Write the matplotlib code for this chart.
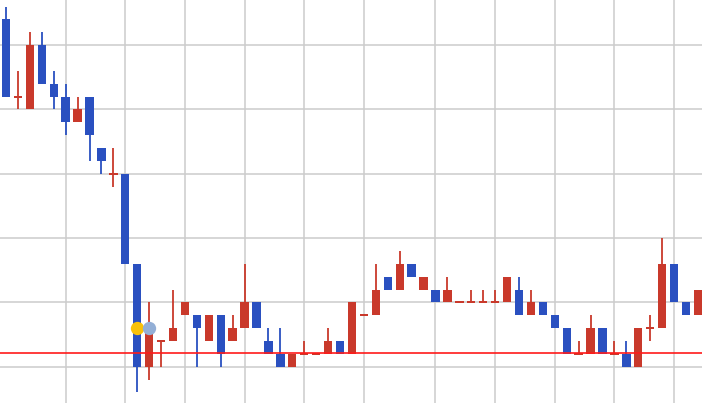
import matplotlib
matplotlib.use("Agg")
import matplotlib.pyplot as plt
import numpy as np

# candle data
opens = [154, 142, 140, 150, 144, 142, 138, 142, 134, 130,
         130, 116, 100, 104, 104, 108, 108, 104, 108, 104,
         106, 110, 104, 102, 100, 102, 102, 102, 104, 102,
         108, 108, 114, 112, 116, 112, 112, 110, 110, 110,
         110, 110, 110, 112, 108, 110, 108, 106, 102, 102,
         106, 102, 102, 100, 106, 106, 116, 110, 108]
highs = [156, 146, 152, 152, 146, 144, 142, 142, 134, 134,
         130, 116, 110, 104, 112, 110, 108, 108, 108, 108,
         116, 110, 106, 106, 102, 104, 102, 106, 104, 110,
         108, 116, 114, 118, 116, 114, 112, 114, 110, 112,
         112, 112, 114, 114, 112, 110, 108, 106, 104, 108,
         106, 104, 104, 106, 108, 120, 116, 110, 112]
lows = [142, 140, 140, 144, 140, 136, 138, 132, 130, 128,
        116, 96, 98, 100, 104, 108, 100, 104, 100, 104,
        106, 106, 102, 100, 100, 102, 102, 102, 102, 102,
        108, 108, 112, 112, 114, 112, 110, 110, 110, 110,
        110, 110, 110, 108, 108, 108, 106, 102, 102, 102,
        102, 102, 100, 100, 104, 106, 110, 108, 108]
closes = [142, 142, 150, 144, 142, 138, 140, 136, 132, 130,
          116, 100, 106, 104, 106, 110, 106, 108, 102, 106,
          110, 106, 102, 100, 102, 102, 102, 104, 102, 110,
          108, 112, 112, 116, 114, 114, 110, 112, 110, 110,
          110, 110, 114, 108, 110, 108, 106, 102, 102, 106,
          102, 102, 100, 106, 106, 116, 110, 108, 112]

# vertical grid positions (candle index)
x_grid = [5, 10, 15, 20, 25, 30, 36, 41, 46, 51, 56]
y_grid = [100, 110, 120, 130, 140, 150]

ref_level = 102.2
marker_idx = [11, 12]
marker_val = [106, 106]
marker_col = ['#f9c108', '#93afd6']

BLUE = '#2a50c0'
RED = '#c9392b'


def main():
    fig = plt.figure(figsize=(7.02, 4.03), dpi=100)
    ax = fig.add_axes([0, 0, 1, 1])

    for g in x_grid:
        ax.axvline(g, color='#cccccc', lw=1.1, zorder=0)
    for g in y_grid:
        ax.axhline(g, color='#cccccc', lw=1.1, zorder=0)

    o = np.array(opens, dtype=float)
    h = np.array(highs, dtype=float)
    l = np.array(lows, dtype=float)
    c = np.array(closes, dtype=float)
    x = np.arange(len(o))
    cols = [RED if cc >= oo else BLUE for oo, cc in zip(o, c)]

    ax.vlines(x, l, h, colors=cols, lw=1.3, zorder=2)
    bottom = np.minimum(o, c)
    height = np.abs(c - o)
    thin = height < 0.3
    bottom = np.where(thin, bottom - 0.15, bottom)
    height = np.where(thin, 0.3, height)
    ax.bar(x, height, bottom=bottom, width=0.7, color=cols, lw=0, zorder=3)

    ax.axhline(ref_level, color='#ff1a1a', lw=1.2, zorder=4)
    for i, v, col in zip(marker_idx, marker_val, marker_col):
        ax.plot(i, v, 'o', color=col, ms=9.6, mec='none', zorder=5)

    ax.set_xlim(-0.503, 58.34)
    ax.set_ylim(94.35, 157.03)
    ax.set_xticks([])
    ax.set_yticks([])
    for s in ax.spines.values():
        s.set_visible(False)

    fig.savefig('out.png', dpi=100)


if __name__ == "__main__":
    main()
